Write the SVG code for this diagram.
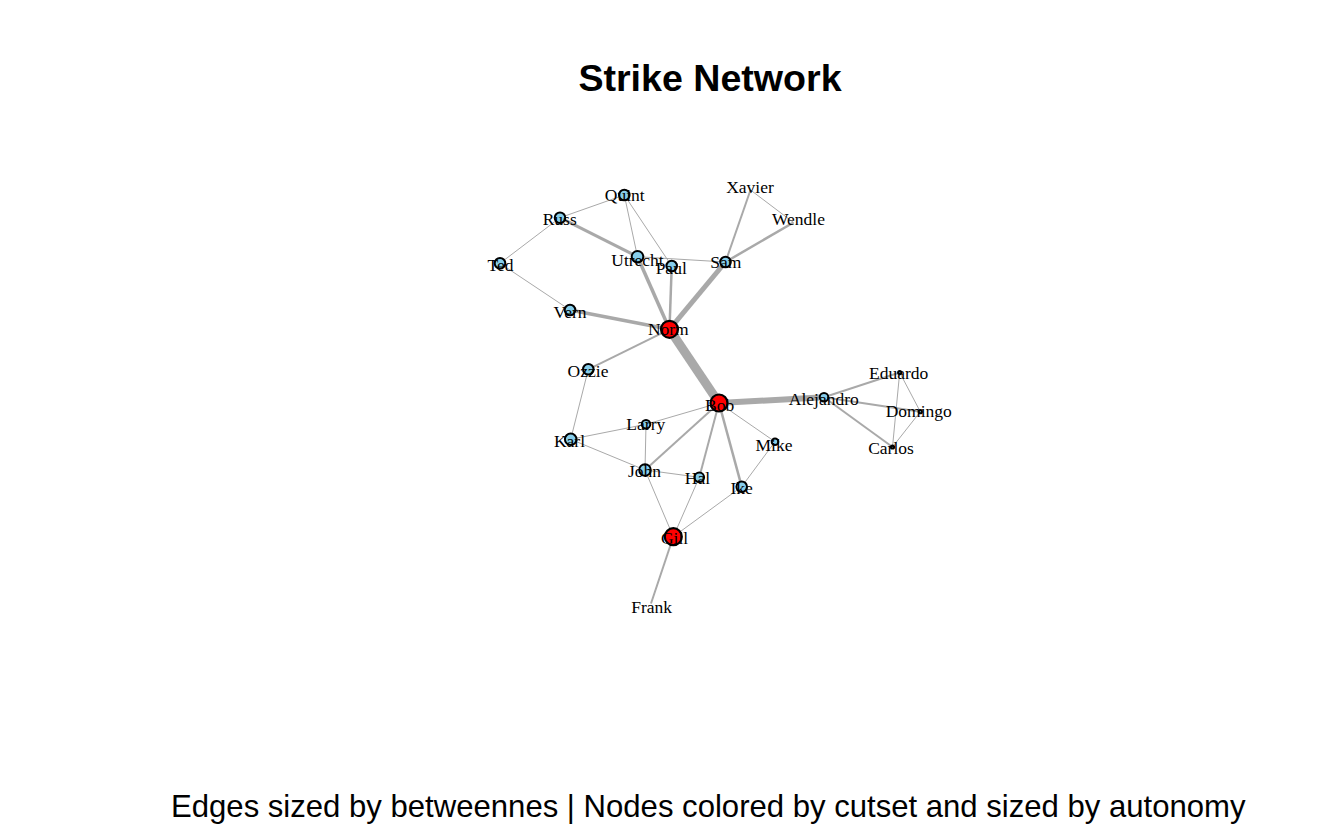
<svg xmlns="http://www.w3.org/2000/svg" width="1344" height="830" viewBox="0 0 1344 830">
<style>
.e{stroke:#A9A9A9;fill:none;stroke-linecap:butt}
.n{stroke:#000;stroke-width:2}
.b{fill:#87CEEB}
.r{fill:#FF0000;stroke-width:2.2}
.s{fill:#87CEEB;stroke-width:2}
.l{font-family:"Liberation Serif","Times New Roman",serif;font-size:17.5px;fill:#000;text-anchor:middle}
.t{font-family:"Liberation Sans",Arial,sans-serif;font-weight:bold;font-size:37.6px;fill:#000;text-anchor:middle}
.st{font-family:"Liberation Sans",Arial,sans-serif;font-size:31.1px;fill:#000;text-anchor:middle}
</style>
<rect width="1344" height="830" fill="#fff"/>
<text class="t" x="710" y="91">Strike Network</text>
<g id="edges">
<line class="e" stroke-width="1" x1="624.3" y1="195" x2="560" y2="217.7"/>
<line class="e" stroke-width="1" x1="624.3" y1="195" x2="637.5" y2="256.7"/>
<line class="e" stroke-width="1" x1="624.3" y1="195" x2="671.7" y2="266"/>
<line class="e" stroke-width="3" x1="560" y1="217.7" x2="637.5" y2="256.7"/>
<line class="e" stroke-width="1" x1="560" y1="217.7" x2="500" y2="263.3"/>
<line class="e" stroke-width="1" x1="500" y1="263.3" x2="570" y2="310"/>
<line class="e" stroke-width="1" x1="637.5" y1="256.7" x2="725.5" y2="262"/>
<line class="e" stroke-width="3.5" x1="637.5" y1="256.7" x2="669.5" y2="329.3"/>
<line class="e" stroke-width="2.5" x1="671.7" y1="266" x2="669.5" y2="329.3"/>
<line class="e" stroke-width="5" x1="725.5" y1="262" x2="669.5" y2="329.3"/>
<line class="e" stroke-width="2" x1="725.5" y1="262" x2="750.5" y2="190"/>
<line class="e" stroke-width="2.5" x1="725.5" y1="262" x2="793.5" y2="222.5"/>
<line class="e" stroke-width="1" x1="750.5" y1="190" x2="793.5" y2="222.5"/>
<line class="e" stroke-width="3.5" x1="570" y1="310" x2="669.5" y2="329.3"/>
<line class="e" stroke-width="2" x1="669.5" y1="329.3" x2="588.3" y2="369.3"/>
<line class="e" stroke-width="9" x1="669.5" y1="329.3" x2="719" y2="403"/>
<line class="e" stroke-width="1" x1="588.3" y1="369.3" x2="570.7" y2="439.3"/>
<line class="e" stroke-width="1" x1="719" y1="403" x2="646" y2="424.3"/>
<line class="e" stroke-width="2" x1="719" y1="403" x2="645" y2="470"/>
<line class="e" stroke-width="2" x1="719" y1="403" x2="699.3" y2="477.3"/>
<line class="e" stroke-width="2.5" x1="719" y1="403" x2="741.7" y2="486.7"/>
<line class="e" stroke-width="1" x1="719" y1="403" x2="775" y2="441.7"/>
<line class="e" stroke-width="6" x1="719" y1="403" x2="824" y2="397.3"/>
<line class="e" stroke-width="1" x1="646" y1="424.3" x2="570.7" y2="439.3"/>
<line class="e" stroke-width="1" x1="646" y1="424.3" x2="645" y2="470"/>
<line class="e" stroke-width="1" x1="570.7" y1="439.3" x2="645" y2="470"/>
<line class="e" stroke-width="1" x1="645" y1="470" x2="699.3" y2="477.3"/>
<line class="e" stroke-width="1" x1="775" y1="441.7" x2="741.7" y2="486.7"/>
<line class="e" stroke-width="1" x1="645" y1="470" x2="673.3" y2="536.7"/>
<line class="e" stroke-width="1" x1="699.3" y1="477.3" x2="673.3" y2="536.7"/>
<line class="e" stroke-width="1" x1="741.7" y1="486.7" x2="673.3" y2="536.7"/>
<line class="e" stroke-width="2" x1="673.3" y1="536.7" x2="651" y2="603.5"/>
<line class="e" stroke-width="2" x1="824" y1="397.3" x2="899.7" y2="372.5"/>
<line class="e" stroke-width="2" x1="824" y1="397.3" x2="920.3" y2="411.7"/>
<line class="e" stroke-width="2" x1="824" y1="397.3" x2="892.5" y2="447"/>
<line class="e" stroke-width="1" x1="899.7" y1="372.5" x2="920.3" y2="411.7"/>
<line class="e" stroke-width="1" x1="899.7" y1="372.5" x2="892.5" y2="447"/>
<line class="e" stroke-width="1" x1="920.3" y1="411.7" x2="892.5" y2="447"/>
</g>
<g id="Quint"><circle class="n b" cx="624.3" cy="195" r="5.3"/><text class="l" x="624.7" y="200.7">Quint</text></g>
<g id="Russ"><circle class="n b" cx="560" cy="217.7" r="5.3"/><text class="l" x="559.7" y="225">Russ</text></g>
<g id="Ted"><circle class="n b" cx="500" cy="263.3" r="5.3"/><text class="l" x="500.5" y="270.7">Ted</text></g>
<g id="Utrecht"><circle class="n b" cx="637.5" cy="256.7" r="5.8"/><text class="l" x="637.5" y="266.3">Utrecht</text></g>
<g id="Paul"><circle class="n b" cx="671.7" cy="266" r="5.3"/><text class="l" x="671.2" y="274">Paul</text></g>
<g id="Sam"><circle class="n b" cx="725.5" cy="262" r="5.3"/><text class="l" x="725.8" y="268.3">Sam</text></g>
<g id="Xavier"><text class="l" x="750" y="193.3">Xavier</text></g>
<g id="Wendle"><text class="l" x="798.5" y="225">Wendle</text></g>
<g id="Vern"><circle class="n b" cx="570" cy="310" r="5.3"/><text class="l" x="570" y="318.3">Vern</text></g>
<g id="Norm"><circle class="n r" cx="669.5" cy="329.3" r="8.5"/><text class="l" x="668.3" y="335.3">Norm</text></g>
<g id="Ozzie"><circle class="n b" cx="588.3" cy="369.3" r="5.3"/><text class="l" x="588" y="376.7">Ozzie</text></g>
<g id="Bob"><circle class="n r" cx="719" cy="403" r="8.5"/><text class="l" x="719.7" y="411">Bob</text></g>
<g id="Larry"><circle class="n b" cx="646" cy="424.3" r="4.3"/><text class="l" x="645.8" y="430">Larry</text></g>
<g id="Karl"><circle class="n b" cx="570.7" cy="439.3" r="5.8"/><text class="l" x="569.5" y="447.3">Karl</text></g>
<g id="Mike"><circle class="n b" cx="775" cy="441.7" r="3.3"/><text class="l" x="774" y="451">Mike</text></g>
<g id="John"><circle class="n b" cx="645" cy="470" r="5.8"/><text class="l" x="644.5" y="476.7">John</text></g>
<g id="Hal"><circle class="n b" cx="699.3" cy="477.3" r="4.8"/><text class="l" x="697.5" y="484">Hal</text></g>
<g id="Ike"><circle class="n b" cx="741.7" cy="486.7" r="5.3"/><text class="l" x="741.7" y="494">Ike</text></g>
<g id="Alejandro"><circle class="n b" cx="824" cy="397.3" r="4.3"/><text class="l" x="823.8" y="405">Alejandro</text></g>
<g id="Eduardo"><circle class="n s" cx="899.7" cy="372.5" r="1.6"/><text class="l" x="898.7" y="379.3">Eduardo</text></g>
<g id="Domingo"><circle class="n s" cx="920.3" cy="411.7" r="1.6"/><text class="l" x="918.8" y="416.7">Domingo</text></g>
<g id="Carlos"><circle class="n s" cx="892.5" cy="447" r="1.6"/><text class="l" x="891" y="454">Carlos</text></g>
<g id="Gill"><circle class="n r" cx="673.3" cy="536.7" r="8.5"/><text class="l" x="674.5" y="544.3">Gill</text></g>
<g id="Frank"><text class="l" x="651.7" y="612.7">Frank</text></g>
<text class="st" x="708.3" y="816.7">Edges sized by betweennes | Nodes colored by cutset and sized by autonomy</text>
</svg>
